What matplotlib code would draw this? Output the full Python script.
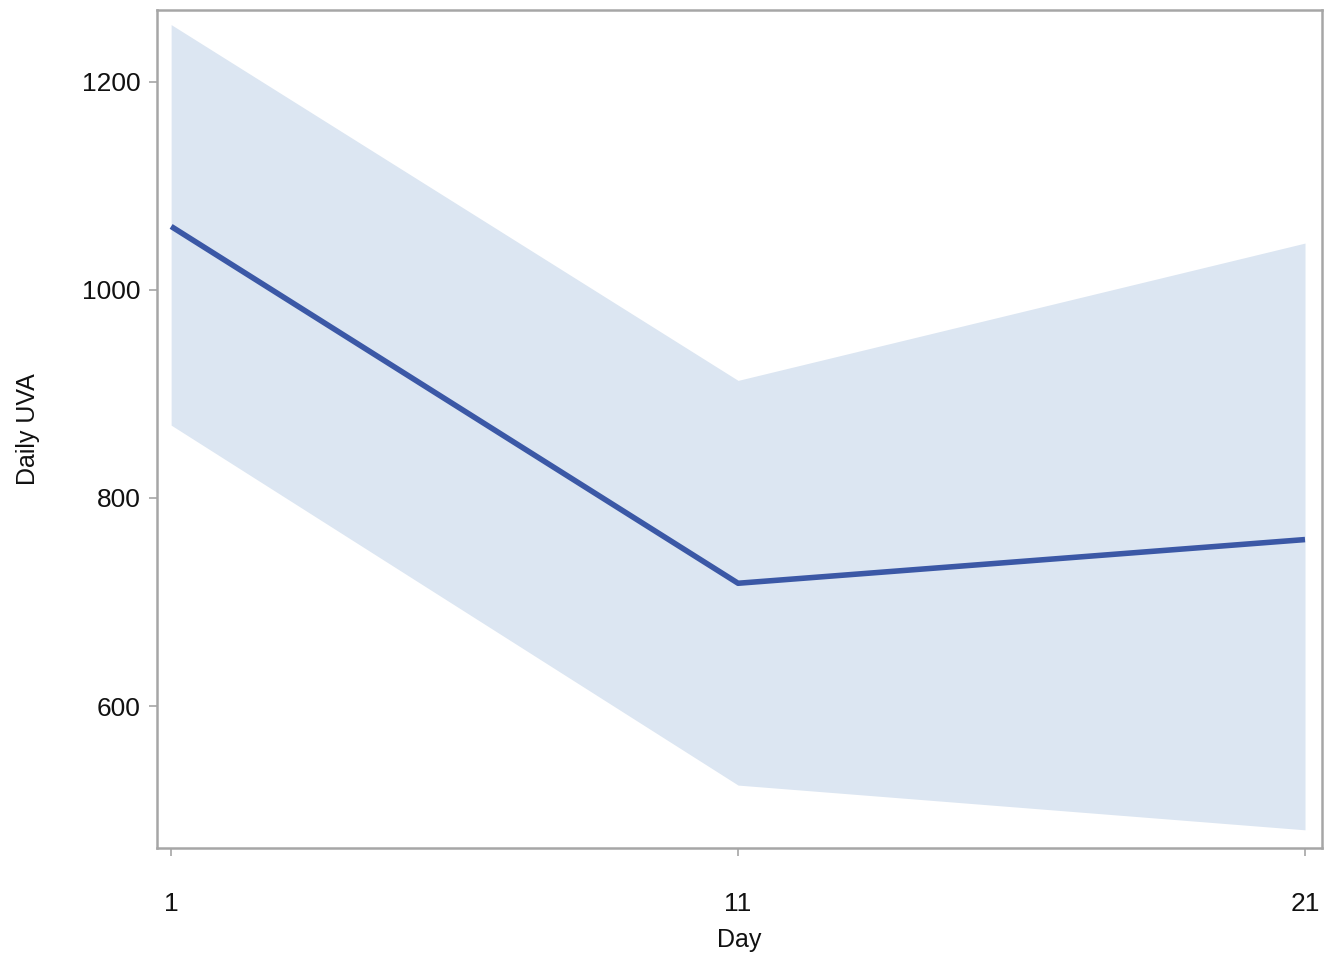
import matplotlib.pyplot as plt

# ────────────────────────────────────────
#   Data
# ────────────────────────────────────────
days = [1, 11, 21]
mean_uva = [1061, 718, 760]
upper_uva = [1255, 913, 1045]
lower_uva = [870, 524, 481]

y_ticks = [600, 800, 1000, 1200]

plt.rcParams['font.family'] = ['Liberation Sans', 'DejaVu Sans']

fig = plt.figure(figsize=(13.37, 9.64), dpi=100, facecolor='white')
ax = fig.add_axes([0.1174, 0.1203, 0.8714, 0.8693])

ax.fill_between(days, lower_uva, upper_uva, color='#dce6f2', linewidth=0)
ax.plot(days, mean_uva, color='#3b58a6', linewidth=4, solid_capstyle='butt')

ax.set_xlim(0.75, 21.3)
ax.set_ylim(463.5, 1269)
ax.set_xticks(days)
ax.set_xticklabels([str(d) for d in days])
ax.set_yticks(y_ticks)

for side in ['left', 'bottom', 'right', 'top']:
    ax.spines[side].set_color('#a6a6a6')
    ax.spines[side].set_linewidth(1.8)

ax.tick_params(axis='both', colors='#a6a6a6', length=6, width=1.2,
               labelcolor='#111111', labelsize=19)
ax.tick_params(axis='x', pad=26)
ax.tick_params(axis='y', pad=6)

ax.set_xlabel("Day", fontsize=18, color='#111111', labelpad=8)
ax.set_ylabel("Daily UVA", fontsize=18, color='#111111', labelpad=30)

fig.savefig("out.png", dpi=100, facecolor='white')
